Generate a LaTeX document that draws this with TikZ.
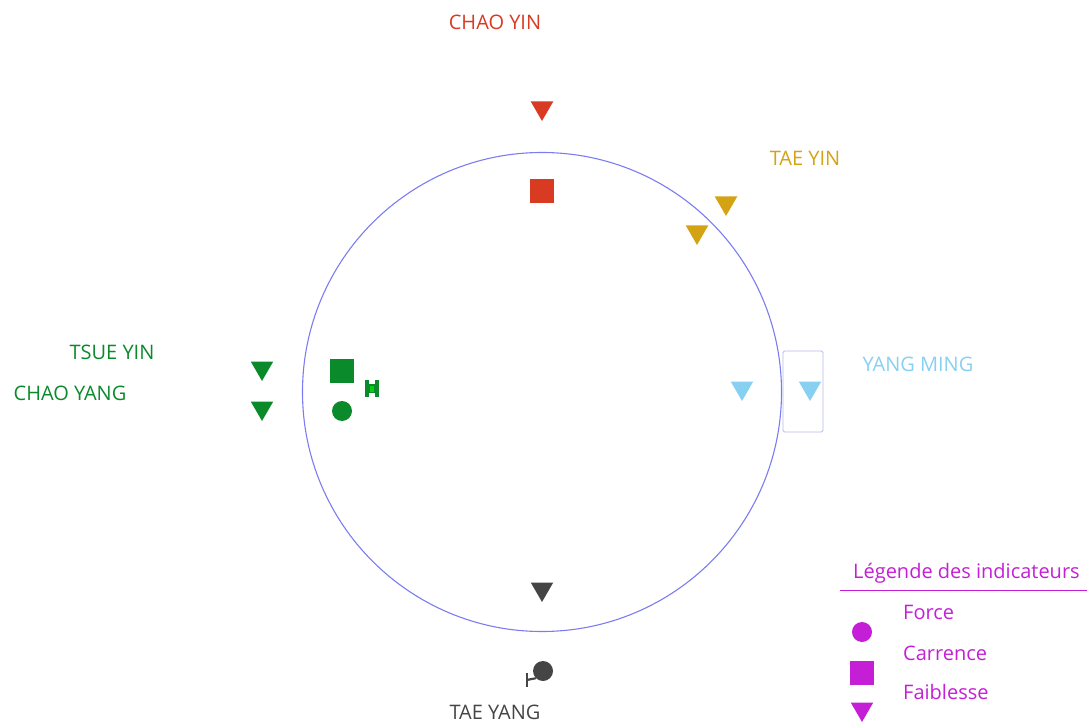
\documentclass[tikz,border=0pt]{standalone}
\usepackage{fontspec}
\setmainfont{Open Sans}
\usetikzlibrary{shapes.geometric}
\definecolor{cred}{HTML}{D93A22}
\definecolor{cgold}{HTML}{D4A314}
\definecolor{cblue}{HTML}{88D0F2}
\definecolor{cgreen}{HTML}{0B8A2C}
\definecolor{cdark}{HTML}{454545}
\definecolor{cring}{HTML}{7C7CF2}
\definecolor{cbox}{HTML}{B4BCEA}
\definecolor{cleg}{HTML}{C41FD6}
\tikzset{
  lbl/.style={inner sep=0pt, font=\fontsize{20}{24}\selectfont},
  tri/.style={regular polygon, regular polygon sides=3, shape border rotate=180, fill=#1, draw=none, inner sep=0pt, minimum size=26pt},
  sq/.style={rectangle, fill=#1, draw=none, inner sep=0pt, minimum size=24pt},
  dot/.style={circle, fill=#1, draw=none, inner sep=0pt, minimum size=20pt},
}
\begin{document}
\begin{tikzpicture}[x=1pt,y=-1pt]
\useasboundingbox (0,0) rectangle (1087,722);
% ring
\node[circle, draw=cring, line width=1.1pt, minimum size=479pt, inner sep=0pt] (ring) at (542,392) {};
% CHAO YIN
\node[lbl, text=cred] (chaoyin) at (495,22) {CHAO YIN};
\node[tri=cred] (cytri) at (542,108) {};
\node[sq=cred] (cysq) at (542,191) {};
% TAE YIN
\node[lbl, text=cgold] (taeyin) at (805,158) {TAE YIN};
\node[tri=cgold] (tytri1) at (726,203) {};
\node[tri=cgold] (tytri2) at (697,232) {};
% YANG MING
\node[lbl, text=cblue] (yangming) at (918,364) {YANG MING};
\node[tri=cblue] (ymtri1) at (742,388) {};
\node[draw=cbox, line width=0.9pt, rounded corners=1.5pt, minimum width=40pt, minimum height=81pt, inner sep=0pt] (ymbox) at (803,391.5) {};
\node[tri=cblue] (ymtri2) at (810,388) {};
% TSUE YIN / CHAO YANG
\node[lbl, text=cgreen] (tsueyin) at (112,352) {TSUE YIN};
\node[lbl, text=cgreen] (chaoyang) at (70,393) {CHAO YANG};
\node[tri=cgreen] (gtri1) at (262,368) {};
\node[tri=cgreen] (gtri2) at (262,408) {};
\node[sq=cgreen] (gsq) at (342,371) {};
\node[dot=cgreen] (gdot) at (342,411) {};
\node[inner sep=0pt, minimum width=14pt, minimum height=17pt] (gicon) at (372,389) {};
\fill[cgreen] (gicon.north west) rectangle ++(4,17);
\fill[cgreen] (gicon.north east) rectangle ++(-4,17);
\fill[cgreen] ([xshift=4pt,yshift=-4pt]gicon.north west) rectangle ([xshift=-4pt,yshift=-13pt]gicon.north east);
\fill[green!60!cgreen] ([xshift=5pt,yshift=-6pt]gicon.north west) rectangle ++(4,6);
% TAE YANG
\node[tri=cdark] (dtri) at (542,589) {};
\node[dot=cdark, minimum size=20pt] (ddot) at (543,671) {};
\node[inner sep=0pt, minimum width=6pt, minimum height=13pt] (dicon) at (530,680) {};
\draw[cdark, line width=1.8pt] (dicon.north west) -- (dicon.south west);
\draw[cdark, line width=2.2pt] (dicon.west) -- (ddot.south west);
\node[lbl, text=cdark] (taeyang) at (495,712) {TAE YANG};
% legend
\node[lbl, text=cleg, anchor=west] (legtitle) at (853,573) {Légende des indicateurs};
\coordinate (ulA) at (840,590);
\coordinate (ulB) at (1087,590);
\draw[cleg, line width=0.9pt] (ulA) -- (ulB);
\node[lbl, text=cleg, anchor=west] (lforce) at (903,612) {Force};
\node[lbl, text=cleg, anchor=west] (lcar) at (903,653) {Carrence};
\node[lbl, text=cleg, anchor=west] (lfai) at (903,692) {Faiblesse};
\node[dot=cleg] (legdot) at (862,632) {};
\node[sq=cleg] (legsq) at (862,673) {};
\node[tri=cleg] (legtri) at (862,709) {};
\end{tikzpicture}
\end{document}
